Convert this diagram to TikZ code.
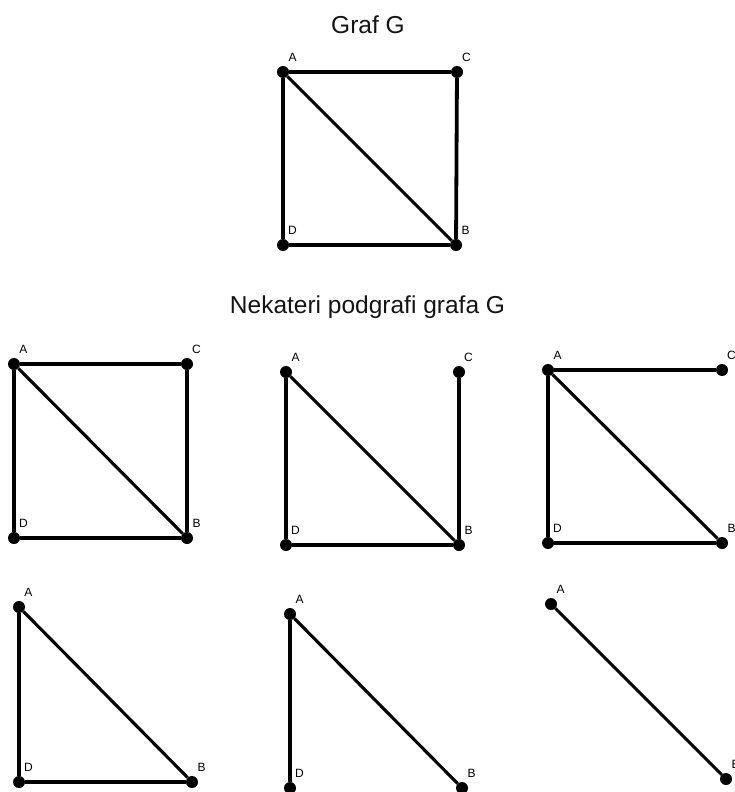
\documentclass[tikz,border=0pt]{standalone}
\usepackage{fontspec}
\setmainfont{Liberation Sans}
\begin{document}
\begin{tikzpicture}[x=1pt,y=-1pt,
  vtx/.style={circle,fill=black,draw=none,inner sep=0pt,minimum size=12pt},
  lbl/.style={font=\fontsize{12}{14}\selectfont,inner sep=0pt,xshift=9.5pt,yshift=15pt},
  edge/.style={line width=3.8pt,black},
  diag/.style={line width=3.1pt,black},
  title/.style={font=\fontsize{24.5}{29}\selectfont,anchor=base,inner sep=0pt,text=black!92}]
\useasboundingbox (0,0) rectangle (735,792);

\node[title] (t1) at (368,33.5) {Graf G};
\node[title] (t2) at (367.5,313.5) {Nekateri podgrafi grafa G};

% Graf G
\node[vtx,label={[lbl]center:A}] (gA) at (283,72) {};
\node[vtx,label={[lbl]center:C}] (gC) at (457,72) {};
\node[vtx,label={[lbl]center:D}] (gD) at (283,245) {};
\node[vtx,label={[lbl]center:B}] (gB) at (456,245) {};
\draw[edge] (gA) -- (gC);
\draw[edge] (gC) -- (gB);
\draw[edge] (gA) -- (gD);
\draw[edge] (gD) -- (gB);
\draw[diag] (gA) -- (gB);

% Subgraph 1
\node[vtx,label={[lbl]center:A}] (aA) at (14,364) {};
\node[vtx,label={[lbl]center:C}] (aC) at (187,364) {};
\node[vtx,label={[lbl]center:D}] (aD) at (14,538) {};
\node[vtx,label={[lbl]center:B}] (aB) at (187,538) {};
\draw[edge] (aA) -- (aC);
\draw[edge] (aC) -- (aB);
\draw[edge] (aA) -- (aD);
\draw[edge] (aD) -- (aB);
\draw[diag] (aA) -- (aB);

% Subgraph 2
\node[vtx,label={[lbl]center:A}] (bA) at (286,372) {};
\node[vtx,label={[lbl]center:C}] (bC) at (459,372) {};
\node[vtx,label={[lbl]center:D}] (bD) at (286,545) {};
\node[vtx,label={[lbl]center:B}] (bB) at (459,545) {};
\draw[edge] (bC) -- (bB);
\draw[edge] (bA) -- (bD);
\draw[edge] (bD) -- (bB);
\draw[diag] (bA) -- (bB);

% Subgraph 3
\node[vtx,label={[lbl]center:A}] (cA) at (548,370) {};
\node[vtx,label={[lbl]center:C}] (cC) at (722,370) {};
\node[vtx,label={[lbl]center:D}] (cD) at (548,543) {};
\node[vtx,label={[lbl]center:B}] (cB) at (722,543) {};
\draw[edge] (cA) -- (cC);
\draw[edge] (cA) -- (cD);
\draw[edge] (cD) -- (cB);
\draw[diag] (cA) -- (cB);

% Subgraph 4
\node[vtx,label={[lbl]center:A}] (dA) at (19,607) {};
\node[vtx,label={[lbl]center:D}] (dD) at (19,782) {};
\node[vtx,label={[lbl]center:B}] (dB) at (192,782) {};
\draw[edge] (dA) -- (dD);
\draw[edge] (dD) -- (dB);
\draw[diag] (dA) -- (dB);

% Subgraph 5
\node[vtx,label={[lbl]center:A}] (eA) at (290,614) {};
\node[vtx,label={[lbl]center:D}] (eD) at (290,788) {};
\node[vtx,label={[lbl]center:B}] (eB) at (462,788) {};
\draw[edge] (eA) -- (eD);
\draw[diag] (eA) -- (eB);

% Subgraph 6
\node[vtx,label={[lbl]center:A}] (fA) at (551,604) {};
\node[vtx,label={[lbl]center:B}] (fB) at (726,779) {};
\draw[diag] (fA) -- (fB);
\end{tikzpicture}
\end{document}
